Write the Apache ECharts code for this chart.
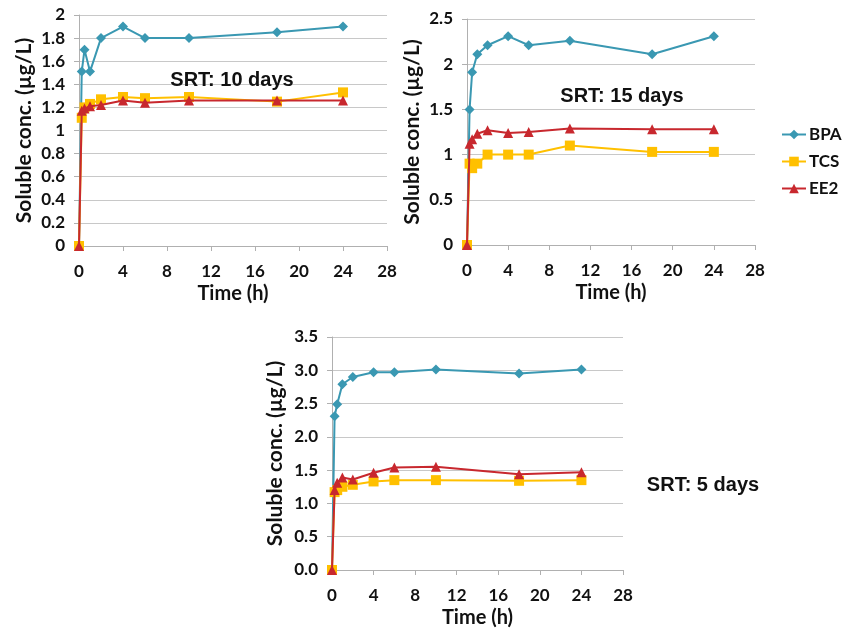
<!DOCTYPE html>
<html>
<head>
<meta charset="utf-8">
<script src="https://cdn.jsdelivr.net/npm/echarts@6/dist/echarts.min.js"></script>
<style>
  html, body { margin: 0; padding: 0; background: #fff; }
  #chart { width: 848px; height: 633px; }
</style>
</head>
<body>
<div id="chart"></div>
<script>
// sampling times (h), same for all three runs
const hours = [0, 0.25, 0.5, 1, 2, 4, 6, 10, 18, 24];
const seriesNames = ['BPA', 'TCS', 'EE2'];
const panelLabels = ['SRT: 10 days', 'SRT: 15 days', 'SRT: 5 days'];

// SRT 10 days
const bpa10 = [0, 1.51, 1.70, 1.51, 1.80, 1.90, 1.80, 1.80, 1.85, 1.90];
const tcs10 = [0, 1.11, 1.20, 1.23, 1.27, 1.29, 1.28, 1.29, 1.25, 1.33];
const ee210 = [0, 1.17, 1.19, 1.21, 1.22, 1.26, 1.24, 1.26, 1.26, 1.26];
// SRT 15 days
const bpa15 = [0, 1.50, 1.91, 2.11, 2.21, 2.31, 2.21, 2.26, 2.11, 2.31];
const tcs15 = [0, 0.90, 0.85, 0.90, 1.00, 1.00, 1.00, 1.10, 1.03, 1.03];
const ee215 = [0, 1.12, 1.17, 1.23, 1.27, 1.24, 1.25, 1.29, 1.28, 1.28];
// SRT 5 days
const bpa5 = [0, 2.31, 2.49, 2.79, 2.90, 2.97, 2.97, 3.01, 2.95, 3.01];
const tcs5 = [0, 1.17, 1.20, 1.25, 1.28, 1.33, 1.35, 1.35, 1.34, 1.35];
const ee25 = [0, 1.20, 1.31, 1.39, 1.36, 1.46, 1.54, 1.55, 1.44, 1.47];

// y axis ranges per panel
const yMax = [2, 2.5, 3.5];
const yStep = [0.2, 0.5, 0.5];

const colors = ['#3a98b2', '#ffc000', '#c8282e'];
const symbols = ['diamond', 'rect', 'triangle'];
const symbolSizes = [10, 10, 10];

const labelFont = 'Lato, "Open Sans", sans-serif';
const gridLineColor = '#c8c8c8';

const panels = [
  { data: [bpa10, tcs10, ee210], grid: { left: 79, top: 15, width: 308, height: 231 }, yGap: 44 },
  { data: [bpa15, tcs15, ee215], grid: { left: 467, top: 19, width: 288, height: 226 }, yGap: 44 },
  { data: [bpa5, tcs5, ee25], grid: { left: 332, top: 337, width: 291, height: 233 }, yGap: 46 },
];

const xAxes = panels.map((p, i) => ({
  type: 'value',
  gridIndex: i,
  min: 0,
  max: 28,
  interval: 4,
  name: 'Time (h)',
  nameLocation: 'middle',
  nameGap: 38,
  nameTextStyle: { fontFamily: labelFont, fontWeight: 'bold', fontSize: 20, color: '#111' },
  axisLine: { lineStyle: { color: '#b0b0b0', width: 1 } },
  axisTick: { show: true, length: 5, lineStyle: { color: '#b0b0b0' } },
  axisLabel: { fontFamily: labelFont, fontWeight: 'bold', fontSize: 17, color: '#111', margin: 17 },
  splitLine: { show: false },
}));

const yAxes = panels.map((p, i) => ({
  type: 'value',
  gridIndex: i,
  min: 0,
  max: yMax[i],
  interval: yStep[i],
  name: 'Soluble conc. (µg/L)',
  nameLocation: 'middle',
  nameGap: p.yGap,
  nameTextStyle: { fontFamily: labelFont, fontWeight: 'bold', fontSize: 21, color: '#111' },
  axisLine: { show: true, lineStyle: { color: '#b0b0b0', width: 1 } },
  axisTick: { show: true, length: 5, lineStyle: { color: '#b0b0b0' } },
  axisLabel: {
    fontFamily: labelFont,
    fontWeight: 'bold',
    fontSize: 17,
    color: '#111',
    margin: 14,
    formatter(v) {
      return i === 2 ? v.toFixed(1) : String(Math.round(v * 10) / 10);
    },
  },
  splitLine: { show: true, lineStyle: { color: gridLineColor, width: 1 } },
}));

const series = [];
panels.forEach((p, i) => {
  p.data.forEach((vals, k) => {
    series.push({
      name: seriesNames[k],
      type: 'line',
      xAxisIndex: i,
      yAxisIndex: i,
      data: hours.map((h, j) => [h, vals[j]]),
      symbol: symbols[k],
      symbolSize: symbolSizes[k],
      showAllSymbol: true,
      itemStyle: { color: colors[k] },
      lineStyle: { color: colors[k], width: 2 },
      z: 2 + k,
      animation: false,
    });
  });
});

const titlePos = [
  { left: 227, top: 75 },
  { left: 617, top: 91 },
  { left: 698, top: 480 },
];

const option = {
  animation: false,
  title: panelLabels.map((t, i) => ({
    text: t,
    left: titlePos[i].left,
    top: titlePos[i].top,
    textAlign: 'center',
    textVerticalAlign: 'middle',
    textStyle: { fontFamily: '"Liberation Sans", Arial, sans-serif', fontWeight: 'bold', fontSize: 20, color: '#111' },
  })),
  legend: {
    data: seriesNames,
    orient: 'vertical',
    left: 781,
    top: 126,
    itemWidth: 24,
    itemHeight: 12,
    itemGap: 10,
    padding: 0,
    textStyle: { fontFamily: labelFont, fontWeight: 'bold', fontSize: 17, color: '#111', padding: [0, 0, 0, -2] },
  },
  grid: panels.map((p) => p.grid),
  xAxis: xAxes,
  yAxis: yAxes,
  series,
};

const chart = echarts.init(document.getElementById('chart'));
chart.setOption(option);
</script>
</body>
</html>
